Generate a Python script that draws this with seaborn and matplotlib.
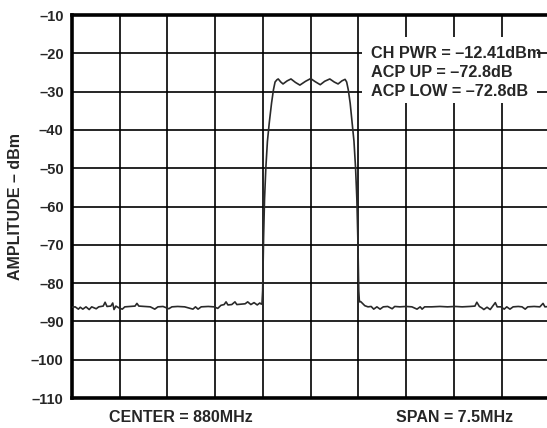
import matplotlib
matplotlib.use("Agg")
import matplotlib.pyplot as plt
import seaborn as sns
import pandas as pd
from matplotlib.patches import Rectangle

# ---------------- data (frequency offset from centre in MHz, amplitude in dBm) -------------
noise_left_f = [-3.75, -3.70, -3.65, -3.62, -3.58, -3.53, -3.48, -3.44, -3.37, -3.33,
                -3.26, -3.23, -3.20, -3.14, -3.11, -3.09, -3.06, -3.01, -2.96, -2.92,
                -2.84, -2.76, -2.73, -2.70, -2.60, -2.52, -2.45, -2.40, -2.32, -2.23,
                -2.18, -2.09, -1.98, -1.85, -1.81, -1.77, -1.72, -1.61, -1.52, -1.46,
                -1.41, -1.36, -1.33, -1.30, -1.24, -1.19, -1.16, -1.10, -1.03, -0.99,
                -0.94, -0.89, -0.84, -0.80, -0.775]
noise_left_a = [-86.3, -86.2, -86.8, -86.3, -86.8, -86.2, -86.9, -86.2, -86.7, -86.2,
                -86.0, -85.0, -86.1, -86.0, -85.2, -86.9, -86.0, -86.5, -86.8, -86.2,
                -86.1, -86.0, -85.3, -86.0, -86.1, -86.2, -86.8, -86.2, -86.1, -86.7,
                -86.2, -86.1, -86.2, -86.8, -86.2, -86.8, -86.2, -86.1, -86.2, -86.6,
                -85.8, -85.6, -84.9, -85.7, -85.6, -84.9, -85.6, -85.5, -85.4, -84.9,
                -85.6, -85.1, -85.7, -85.2, -85.5]

channel_f = [-0.765, -0.755, -0.748, -0.740, -0.725, -0.705, -0.680, -0.650, -0.615, -0.585,
             -0.560, -0.530, -0.510, -0.470, -0.435, -0.370, -0.310, -0.240, -0.170, -0.080,
             0.000, 0.070, 0.150, 0.220, 0.300, 0.370, 0.430, 0.490, 0.540, 0.565,
             0.590, 0.620, 0.650, 0.680, 0.705, 0.725, 0.740, 0.748, 0.755, 0.765]
channel_a = [-85.3, -82.0, -76.0, -68.0, -58.0, -50.0, -43.0, -38.0, -33.0, -29.5,
             -27.5, -26.9, -26.7, -27.5, -28.0, -27.2, -26.7, -27.6, -28.3, -27.3,
             -26.6, -27.4, -28.2, -27.3, -26.7, -27.5, -28.0, -27.2, -26.8, -27.5,
             -29.5, -33.0, -38.0, -43.0, -50.0, -58.0, -68.0, -76.0, -82.0, -84.9]

noise_right_f = [0.78, 0.79, 0.82, 0.85, 0.90, 0.95, 0.99, 1.04, 1.09, 1.14,
                 1.21, 1.28, 1.32, 1.40, 1.50, 1.59, 1.67, 1.72, 1.75, 1.79,
                 1.90, 2.03, 2.15, 2.27, 2.38, 2.50, 2.58, 2.61, 2.65, 2.69,
                 2.72, 2.77, 2.82, 2.86, 2.90, 2.93, 2.99, 3.04, 3.08, 3.13,
                 3.18, 3.26, 3.32, 3.37, 3.41, 3.51, 3.60, 3.65, 3.68, 3.75]
noise_right_a = [-84.8, -84.9, -85.4, -85.9, -86.2, -86.1, -86.8, -86.2, -86.8, -86.2,
                 -86.1, -86.7, -86.1, -86.2, -86.1, -86.2, -86.8, -86.2, -86.8, -86.2,
                 -86.2, -86.1, -86.2, -86.1, -86.2, -86.1, -86.0, -85.0, -86.1, -86.5,
                 -86.9, -86.3, -86.9, -86.0, -85.1, -86.2, -86.2, -86.8, -86.2, -86.8,
                 -86.2, -86.1, -86.2, -86.8, -86.2, -86.1, -86.2, -85.3, -86.2, -86.1]

y_ticks = [-110, -100, -90, -80, -70, -60, -50, -40, -30, -20, -10]
x_grid = [-3.75, -3.0, -2.25, -1.5, -0.75, 0.0, 0.75, 1.5, 2.25, 3.0, 3.75]
y_label = "AMPLITUDE – dBm"
center_label = "CENTER = 880MHz"
span_label = "SPAN = 7.5MHz"
box_lines = ["CH PWR = –12.41dBm", "ACP UP = –72.8dB", "ACP LOW = –72.8dB"]

# ---------------- plot ----------------
sns.set_style("white")
plt.rcParams['font.family'] = ['Liberation Sans', 'DejaVu Sans']
plt.rcParams['font.weight'] = 'bold'

df = pd.DataFrame({
    "freq": noise_left_f + channel_f + noise_right_f,
    "amp": noise_left_a + channel_a + noise_right_a,
})

fig = plt.figure(figsize=(5.47, 4.28), dpi=100)
ax = fig.add_axes([72 / 547, 30 / 428, 477.4 / 547, 383 / 428])

sns.lineplot(data=df, x="freq", y="amp", ax=ax, color="#2a2a2a", linewidth=1.2,
             estimator=None, sort=False, zorder=3)

ax.set_xlim(-3.75, 3.75)
ax.set_ylim(-110, -10)
ax.set_xticks(x_grid)
ax.set_xticklabels([])
ax.set_yticks(y_ticks)
ax.set_yticklabels([f"–{abs(v)}" for v in y_ticks], fontsize=10.5, fontweight='bold')
ax.tick_params(axis='both', length=0, pad=6)
ax.grid(True, color='black', linewidth=1.2)
ax.set_axisbelow(True)
for s in ax.spines.values():
    s.set_linewidth(2.6)
    s.set_color('black')

ax.set_xlabel("")
ax.set_ylabel(y_label, fontsize=11.5, fontweight='bold')
ax.yaxis.set_label_coords(-0.103, 0.5)

# white box behind the measurement text
ax.add_patch(Rectangle((0.80, -33.0), 2.76, 17.3, facecolor='white', edgecolor='none',
                       zorder=2))
for i, line in enumerate(box_lines):
    ax.text(0.947, -20 - 5 * i, line, fontsize=11.7, fontweight='bold', ha='left',
            va='center', zorder=4)

fig.text(181 / 547, 1 - 418 / 428, center_label, fontsize=11.5, fontweight='bold',
         ha='center', va='center')
fig.text(455 / 547, 1 - 418 / 428, span_label, fontsize=11.5, fontweight='bold',
         ha='center', va='center')

fig.savefig("out.png", dpi=100)
